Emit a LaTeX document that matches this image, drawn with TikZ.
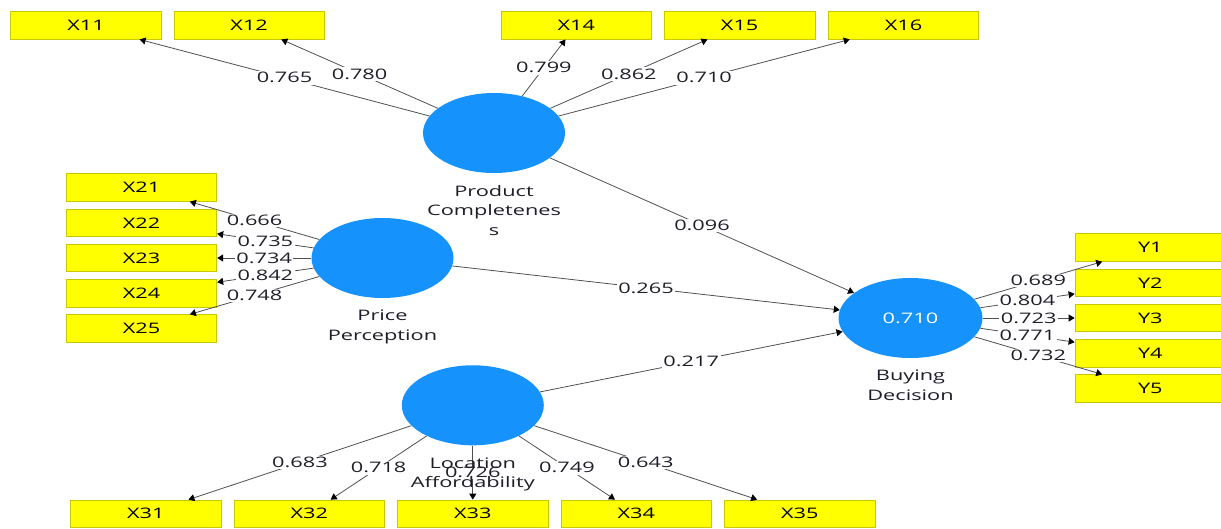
\documentclass[tikz,border=0pt]{standalone}
\usepackage{fontspec}
\setmainfont{Open Sans}[FakeStretch=1.5]
\usetikzlibrary{shapes.geometric,arrows.meta}
\definecolor{lvblue}{HTML}{1592FC}
\definecolor{mvyellow}{HTML}{FFFF00}
\definecolor{mvborder}{HTML}{C8C800}
\definecolor{edgegray}{HTML}{505050}
\definecolor{ink}{HTML}{1E1E28}
\begin{document}
\begin{tikzpicture}[x=1pt,y=-1pt,
  every node/.style={font=\fontsize{14.5}{19.5}\selectfont},
  latent/.style={ellipse, fill=lvblue, minimum width=142, minimum height=80, inner sep=0},
  indicator/.style={rectangle, fill=mvyellow, draw=mvborder, line width=0.8pt,
    minimum width=150.5, minimum height=27.5, inner sep=0, text=black},
  loading/.style={draw=edgegray, line width=0.8pt,
    -{Triangle[length=6pt,width=7pt,color=black]}},
  coef/.style={fill=white, inner sep=1.5pt, text=ink},
  lvname/.style={align=center, anchor=north, inner sep=0, text=ink},
]
\clip (0,0) rectangle (1221,528);
\fill[white] (0,0) rectangle (1221,528);

% latent variables
\node[latent] (PC) at (494,133) {};
\node[latent] (PP) at (382.5,258) {};
\node[latent] (LA) at (472.8,405.3) {};
\node[latent, minimum width=144] (BD) at (910.5,318) {\textcolor{white}{0.710}};

% indicators of Product Completeness
\node[indicator] (X11) at (86,25.3) {X11};
\node[indicator] (X12) at (249.2,25.3) {X12};
\node[indicator] (X14) at (576.3,25.3) {X14};
\node[indicator] (X15) at (739.7,25.3) {X15};
\node[indicator] (X16) at (903.5,25.3) {X16};

% indicators of Price Perception
\node[indicator] (X21) at (141.5,187.5) {X21};
\node[indicator] (X22) at (141.5,222.75) {X22};
\node[indicator] (X23) at (141.5,258) {X23};
\node[indicator] (X24) at (141.5,293.25) {X24};
\node[indicator] (X25) at (141.5,328.5) {X25};

% indicators of Location Affordability
\node[indicator] (X31) at (145.8,513.75) {X31};
\node[indicator] (X32) at (309.3,513.75) {X32};
\node[indicator] (X33) at (472.8,513.75) {X33};
\node[indicator] (X34) at (636.3,513.75) {X34};
\node[indicator] (X35) at (799.8,513.75) {X35};

% indicators of Buying Decision
\node[indicator] (Y1) at (1150.3,247.5) {Y1};
\node[indicator] (Y2) at (1150.3,282.75) {Y2};
\node[indicator] (Y3) at (1150.3,318) {Y3};
\node[indicator] (Y4) at (1150.3,353.25) {Y4};
\node[indicator] (Y5) at (1150.3,388.5) {Y5};

% outer loadings
\draw[loading] (PC) -- node[coef]{0.765} (X11);
\draw[loading] (PC) -- node[coef]{0.780} (X12);
\draw[loading] (PC) -- node[coef]{0.799} (X14);
\draw[loading] (PC) -- node[coef]{0.862} (X15);
\draw[loading] (PC) -- node[coef]{0.710} (X16);

\draw[loading] (PP) -- node[coef]{0.666} (X21);
\draw[loading] (PP) -- node[coef]{0.735} (X22);
\draw[loading] (PP) -- node[coef]{0.734} (X23);
\draw[loading] (PP) -- node[coef]{0.842} (X24);
\draw[loading] (PP) -- node[coef]{0.748} (X25);

\draw[loading] (LA) -- node[coef]{0.683} (X31);
\draw[loading] (LA) -- node[coef]{0.718} (X32);
\draw[loading] (LA) -- node[coef]{0.726} (X33);
\draw[loading] (LA) -- node[coef]{0.749} (X34);
\draw[loading] (LA) -- node[coef]{0.643} (X35);

\draw[loading] (BD) -- node[coef]{0.689} (Y1);
\draw[loading] (BD) -- node[coef]{0.804} (Y2);
\draw[loading] (BD) -- node[coef]{0.723} (Y3);
\draw[loading] (BD) -- node[coef]{0.771} (Y4);
\draw[loading] (BD) -- node[coef]{0.732} (Y5);

% path coefficients
\draw[loading] (PC) -- node[coef]{0.096} (BD);
\draw[loading] (PP) -- node[coef]{0.265} (BD);
\draw[loading] (LA) -- node[coef]{0.217} (BD);

% construct names
\node[lvname] (PCname) at (494,185) {Product\\Completenes\\s};
\node[lvname] (PPname) at (382.5,310) {Price\\Perception};
\node[lvname] (LAname) at (472.8,457.3) {Location\\Affordability};
\node[lvname] (BDname) at (910.5,369.7) {Buying\\Decision};
\end{tikzpicture}
\end{document}
